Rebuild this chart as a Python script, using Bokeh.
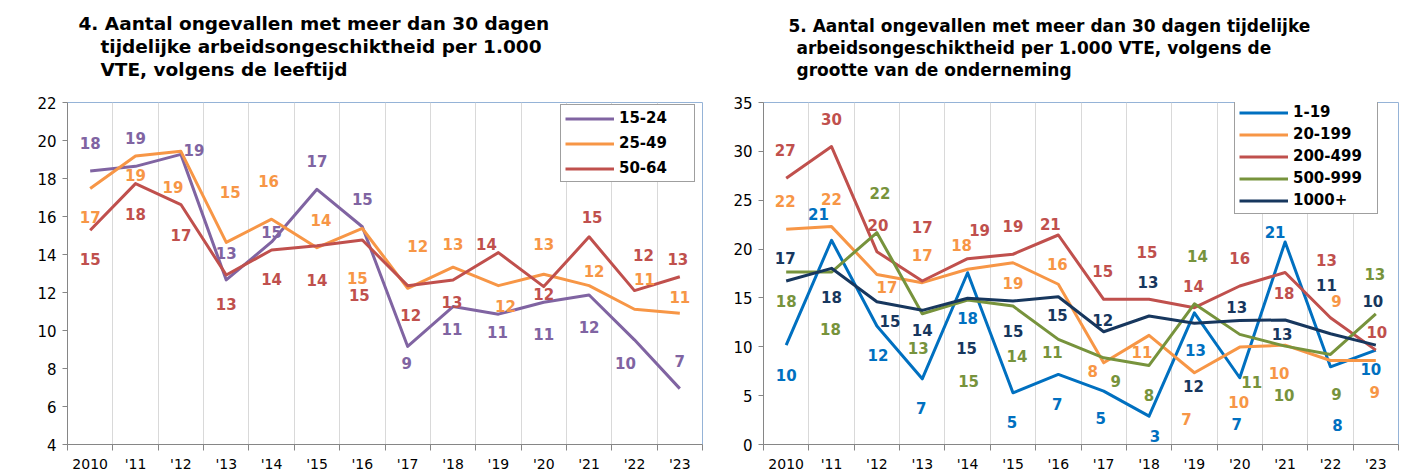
from bokeh.plotting import figure
from bokeh.models import FixedTicker, Title, Legend, LegendItem, ColumnDataSource
from bokeh.layouts import row
from bokeh.embed import file_html
from bokeh.resources import INLINE
from bokeh.core.properties import value

# ---------------- data ----------------
YEARS = ["2010", "'11", "'12", "'13", "'14", "'15", "'16", "'17", "'18", "'19", "'20", "'21", "'22", "'23"]

# Chart 4: by age group
AGE_LABELS = ["15-24", "25-49", "50-64"]
AGE_15_24 = [18.4, 18.64, 19.27, 12.66, 14.66, 17.43, 15.46, 9.16, 11.26, 10.86, 11.49, 11.87, 9.51, 6.94]
AGE_25_49 = [17.47, 19.18, 19.43, 14.64, 15.86, 14.36, 15.37, 12.22, 13.33, 12.36, 12.96, 12.36, 11.12, 10.91]
AGE_50_64 = [15.28, 17.73, 16.63, 12.92, 14.24, 14.46, 14.76, 12.36, 12.66, 14.10, 12.31, 14.93, 12.10, 12.83]
AGE_TICKS = [4, 6, 8, 10, 12, 14, 16, 18, 20, 22]

# Chart 5: by company size
SIZE_LABELS = ["1-19", "20-199", "200-499", "500-999", "1000+"]
SIZE_1_19 = [10.17, 20.9, 12.12, 6.72, 17.58, 5.29, 7.17, 5.46, 2.9, 13.48, 6.83, 20.73, 7.95, 9.66]
SIZE_20_199 = [22.03, 22.3, 17.4, 16.56, 17.93, 18.6, 16.4, 8.36, 11.17, 7.34, 9.97, 10.17, 8.6, 8.6]
SIZE_200_499 = [27.25, 30.49, 19.73, 16.73, 19.02, 19.47, 21.44, 14.86, 14.86, 14.0, 16.22, 17.6, 12.97, 9.66]
SIZE_500_999 = [17.65, 17.65, 21.68, 13.38, 14.78, 14.17, 10.76, 8.87, 8.09, 14.4, 11.27, 10.07, 9.22, 13.38]
SIZE_1000 = [16.73, 18.03, 14.61, 13.73, 14.96, 14.68, 15.12, 11.54, 13.15, 12.4, 12.7, 12.74, 11.33, 10.17]
SIZE_TICKS = [0, 5, 10, 15, 20, 25, 30, 35]

# ---------------- styles ----------------
FONT = "DejaVu Sans"
PURPLE, ORANGE, RED = "#8064A2", "#F79646", "#C0504D"
BLUE, GREEN, NAVY = "#0070C0", "#77933C", "#17375E"

# data-label pixel offsets (dx, dy), dy positive = downwards
OFF_15_24 = [(0, -28), (0, -28), (13, -4), (0, -27), (0, -10), (0, -28), (0, -28), (-1, 17), (-1, 22), (-1, 18), (0, 32), (0, 32), (-9, 23), (0, -28)]
OFF_25_49 = [(0, 28), (0, 19), (-8, 36), (4, -50), (-3, -38), (4, -28), (-5, 50), (10, -42), (0, -23), (7, 20), (0, -30), (5, -15), (10, -30), (0, -16)]
OFF_50_64 = [(0, 29), (0, 30), (0, 30), (0, 29), (0, 29), (0, 34), (-3, 55), (3, 29), (-1, 22), (-12, -9), (0, 7), (3, -20), (9, -36), (-2, -18)]

OFF_1_19 = [(0, 30), (-13, -26), (1, 29), (-1, 29), (0, 45), (-1, 29), (-1, 30), (-3, 27), (6, 20), (1, 37), (-3, 46), (-10, -10), (7, 58), (-5, 19)]
OFF_20_199 = [(-1, -28), (0, -28), (10, 13), (0, -28), (-6, -24), (0, 20), (-1, -20), (-11, 8), (-7, 17), (-8, 46), (-1, 55), (-6, 28), (6, -59), (-1, 32)]
OFF_200_499 = [(-1, -28), (0, -28), (1, -27), (0, -54), (12, -29), (0, -28), (-8, -11), (-1, -28), (-2, -47), (-1, -22), (0, -28), (-1, 20), (-4, -58), (1, -18)]
OFF_500_999 = [(0, 29), (-1, 57), (3, -40), (-4, 34), (1, 81), (4, 50), (-6, 13), (12, 23), (0, 30), (3, -48), (12, 48), (-1, 49), (6, 40), (-1, -40)]
OFF_1000 = [(-1, -23), (0, 29), (13, 19), (0, 20), (-1, 50), (0, 30), (-1, 18), (-1, -12), (-1, -34), (-1, 63), (-3, -13), (-3, 14), (-4, -49), (-3, -44)]


def make_chart(title_lines, title_offsets, title_size, yticks, series, legend_loc,
               legend_spacing, legend_label_width, border_left, border_right):
    n = len(YEARS)
    xs = list(range(n))
    p = figure(width=706, height=474, x_range=(-0.5, n - 0.5), y_range=(yticks[0], yticks[-1]),
               output_backend="svg", toolbar_location=None, title=None,
               min_border_left=border_left, min_border_right=border_right,
               min_border_top=0, min_border_bottom=29)
    p.background_fill_color = "white"
    p.border_fill_color = "white"
    p.outline_line_color = "#95B3D7"
    p.outline_line_width = 1

    # titles, stacked outward from the frame (inner spacer first, outer spacer last)
    p.add_layout(Title(text=" ", text_font_size="18px", text_font=FONT, standoff=0), "above")
    for text, off in reversed(list(zip(title_lines, title_offsets))):
        p.add_layout(Title(text=text, align="left", offset=off, standoff=0,
                           text_font=FONT, text_font_style="bold", text_font_size=title_size,
                           text_color="#000000"), "above")
    p.add_layout(Title(text=" ", text_font_size="7px", text_font=FONT, standoff=0), "above")

    # x axis: labels centred, ticks at the category boundaries
    bounds = [i - 0.5 for i in range(n + 1)]
    xa = p.xaxis[0]
    xa.axis_label = None
    xa.axis_label_standoff = 0
    xa.ticker = FixedTicker(ticks=xs, minor_ticks=bounds)
    xa.major_label_overrides = {i: YEARS[i] for i in xs}
    xa.major_tick_in = 0
    xa.major_tick_out = 0
    xa.minor_tick_in = 0
    xa.minor_tick_out = 6
    xa.minor_tick_line_color = "#868686"
    xa.axis_line_color = "#868686"
    xa.major_label_text_font = FONT
    xa.major_label_text_font_size = "14px"
    xa.major_label_text_color = "#000000"
    xa.major_label_standoff = 5

    ya = p.yaxis[0]
    ya.axis_label = None
    ya.axis_label_standoff = 0
    ya.ticker = FixedTicker(ticks=yticks, minor_ticks=[])
    ya.major_tick_in = 0
    ya.major_tick_out = 5
    ya.major_tick_line_color = "#868686"
    ya.axis_line_color = "#868686"
    ya.major_label_text_font = FONT
    ya.major_label_text_font_size = "15px"
    ya.major_label_text_color = "#000000"
    ya.major_label_standoff = 6

    p.xgrid.ticker = FixedTicker(ticks=bounds)
    p.xgrid.grid_line_color = "#D9D9D9"
    p.xgrid.grid_line_width = 1
    p.ygrid.grid_line_color = None

    items = []
    for name, vals, color, offs in series:
        r = p.line(xs, vals, line_width=3, color=color, line_join="round")
        items.append(LegendItem(label=name, renderers=[r]))
    for name, vals, color, offs in series:
        src = ColumnDataSource(dict(
            x=xs, y=vals, t=[f"{v:.0f}" for v in vals],
            dx=[o[0] for o in offs], dy=[o[1] for o in offs]))
        p.text(x="x", y="y", text="t", x_offset="dx", y_offset="dy", source=src,
               text_align="center", text_baseline="middle", text_font=value(FONT),
               text_font_style="bold", text_font_size="15px", text_color=color)

    leg = Legend(items=items, location=legend_loc, orientation="vertical",
                 border_line_color="#404040", border_line_width=1,
                 background_fill_color="white", background_fill_alpha=1.0,
                 label_text_font=FONT, label_text_font_style="bold",
                 label_text_font_size="15px", label_text_color="#000000",
                 glyph_width=49, glyph_height=17, label_height=17, label_standoff=5,
                 label_width=legend_label_width,
                 padding=4, spacing=legend_spacing, margin=0)
    p.add_layout(leg)
    return p


p1 = make_chart(
    ["4. Aantal ongevallen met meer dan 30 dagen",
     "tijdelijke arbeidsongeschiktheid per 1.000",
     "VTE, volgens de leeftijd"],
    [11, 33, 33], "18.5px", AGE_TICKS,
    [(AGE_LABELS[0], AGE_15_24, PURPLE, OFF_15_24),
     (AGE_LABELS[1], AGE_25_49, ORANGE, OFF_25_49),
     (AGE_LABELS[2], AGE_50_64, RED, OFF_50_64)],
    (493, 262), 7, 71, 67, 4)

p2 = make_chart(
    ["5. Aantal ongevallen met meer dan 30 dagen tijdelijke",
     "arbeidsongeschiktheid per 1.000 VTE, volgens de",
     "grootte van de onderneming"],
    [25, 33, 33], "17px", SIZE_TICKS,
    [(SIZE_LABELS[0], SIZE_1_19, BLUE, OFF_1_19),
     (SIZE_LABELS[1], SIZE_20_199, ORANGE, OFF_20_199),
     (SIZE_LABELS[2], SIZE_200_499, RED, OFF_200_499),
     (SIZE_LABELS[3], SIZE_500_999, GREEN, OFF_500_999),
     (SIZE_LABELS[4], SIZE_1000, NAVY, OFF_1000)],
    (471, 230), 4, 80, 57, 14)

layout = row(p1, p2)
open("out.html", "w").write(file_html(layout, INLINE))
